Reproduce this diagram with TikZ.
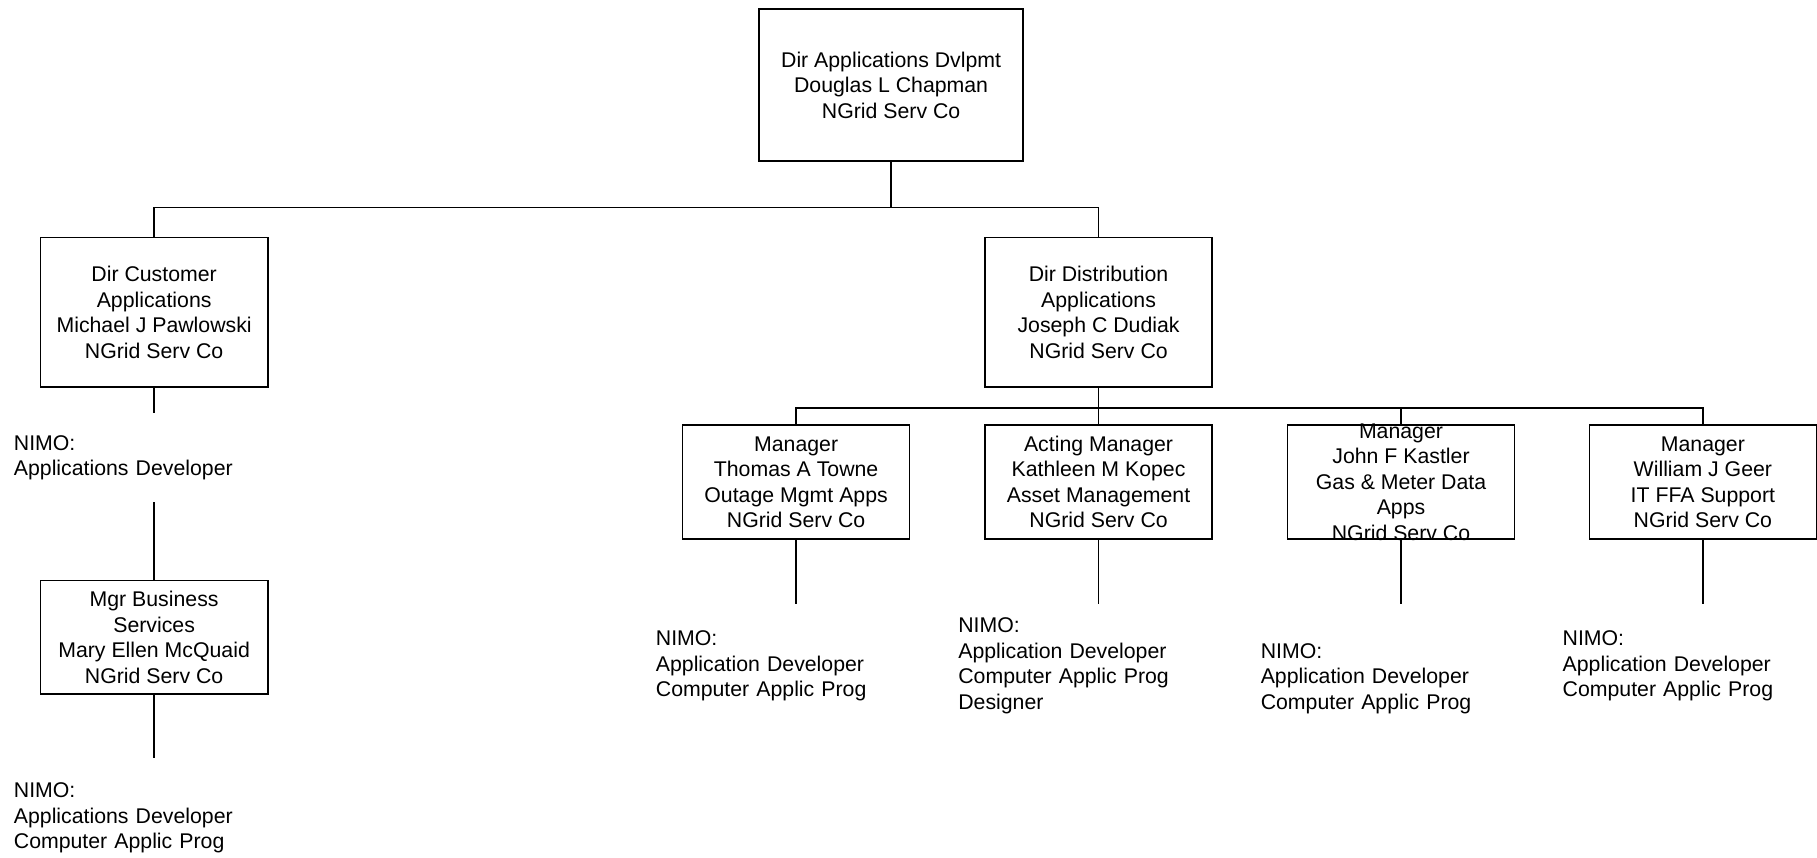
\documentclass[tikz,border=0pt]{standalone}
\usepackage{fontspec}
\setmainfont{Liberation Sans}
\usetikzlibrary{arrows.meta,positioning}

\begin{document}
\begin{tikzpicture}[>=Stealth,line width=0.7pt,
    every node/.style={font=\fontsize{10.45}{12.5}\selectfont},
    box/.style={draw, line width=0.8pt, align=center, inner sep=2pt,
        minimum width=3.92cm, minimum height=1.96cm},
    note/.style={align=left, text width=4.84cm, inner sep=0pt, minimum height=2.12cm}]
    \useasboundingbox (0,0) rectangle (31.36,-14.8);

    \node[box, minimum width=4.56cm, minimum height=2.62cm] (dir) at (15.38,-1.47) {Dir Applications Dvlpmt\\Douglas L Chapman\\NGrid Serv Co};
    \node[box, minimum height=2.58cm] (cust) at (2.66,-5.39) {Dir Customer\\Applications\\Michael J Pawlowski\\NGrid Serv Co};
    \node[box, minimum height=2.58cm] (dist) at (18.96,-5.39) {Dir Distribution\\Applications\\Joseph C Dudiak\\NGrid Serv Co};

    \node[note, minimum height=1.52cm] (custnote) at (2.66,-7.9) {NIMO:\\Applications Developer};
    \node[box] (bus) at (2.66,-11.0) {Mgr Business\\Services\\Mary Ellen McQuaid\\NGrid Serv Co};
    \node[note, minimum height=2.04cm] (busnote) at (2.66,-14.12) {NIMO:\\Applications Developer\\Computer Applic Prog};

    \node[box] (towne) at (13.74,-8.32) {Manager\\Thomas A Towne\\Outage Mgmt Apps\\NGrid Serv Co};
    \node[box] (kopec) at (18.96,-8.32) {Acting Manager\\Kathleen M Kopec\\Asset Management\\NGrid Serv Co};
    \node[box] (kastler) at (24.18,-8.32) {};
    \node[align=center] (kastlertext) at (kastler) {Manager\\John F Kastler\\Gas \& Meter Data\\Apps\\NGrid Serv Co};
    \node[box] (geer) at (29.39,-8.32) {Manager\\William J Geer\\IT FFA Support\\NGrid Serv Co};

    \node[note, anchor=north] (townenote) at (13.74,-10.42) {NIMO:\\Application Developer\\Computer Applic Prog};
    \node[note, anchor=north] (kopecnote) at (18.96,-10.42) {NIMO:\\Application Developer\\Computer Applic Prog\\Designer};
    \node[note, anchor=north, minimum height=2.56cm] (kastlernote) at (24.18,-10.42) {NIMO:\\Application Developer\\Computer Applic Prog};
    \node[note, anchor=north] (geernote) at (29.39,-10.42) {NIMO:\\Application Developer\\Computer Applic Prog};

    \coordinate (j1) at (15.38,-3.58);
    \coordinate (j2) at (18.96,-7.04);

    \draw (dir) -- (j1);
    \draw (j1) -| (cust);
    \draw (j1) -| (dist);
    \draw (cust) -- (custnote);
    \draw (custnote) -- (bus);
    \draw (bus) -- (busnote);

    \draw (dist) -- (kopec);
    \draw (j2) -| (towne);
    \draw (j2) -| (kastler);
    \draw (j2) -| (geer);

    \draw (towne) -- (townenote);
    \draw (kopec) -- (kopecnote);
    \draw (kastler) -- (kastlernote);
    \draw (geer) -- (geernote);
\end{tikzpicture}
\end{document}
